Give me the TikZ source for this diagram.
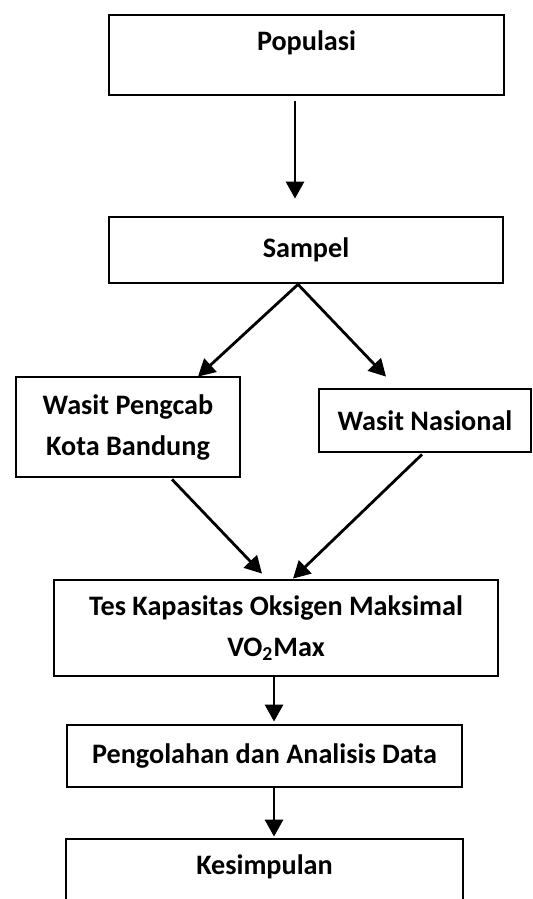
\documentclass[tikz,border=0pt]{standalone}
\usepackage{fontspec}
\setmainfont{Carlito}
\usetikzlibrary{arrows.meta,calc}

\tikzset{
  flowbox/.style={draw, line width=1.4pt, inner sep=0pt, align=center,
    font=\fontsize{14.1pt}{20.5pt}\selectfont\bfseries},
  flowarr/.style={line width=1.4pt, -{Triangle[length=8.5pt,width=9pt]}}
}

\begin{document}
\begin{tikzpicture}[x=0.5pt, y=-0.5pt]

% ================================================================
% Page frame (pixel grid of the reference, y going down)
% ================================================================
\useasboundingbox (0,0) rectangle (532,899);

% ================================================================
% Boxes
% ================================================================
\node[flowbox, minimum width=197.5pt, minimum height=40pt,
  text height=18pt, text depth=22pt] (pop) at (306.5,55) {Populasi};
\node[flowbox, minimum width=197pt, minimum height=33pt] (sam) at (306,250) {Sampel};
\node[flowbox, minimum width=112pt, minimum height=50pt] (wpc) at (128,427)
  {Wasit Pengcab\\Kota Bandung};
\node[flowbox, minimum width=106pt, minimum height=31.5pt] (wn) at (425,420.5)
  {Wasit Nasional};
\node[flowbox, minimum width=222pt, minimum height=48pt] (tes) at (276,628)
  {Tes Kapasitas Oksigen Maksimal\\VO\textsubscript{2}Max};
\node[flowbox, minimum width=197.5pt, minimum height=31pt] (pen) at (264.5,756)
  {Pengolahan dan Analisis Data};
\node[flowbox, minimum width=198.5pt, minimum height=40pt,
  text height=17.5pt, text depth=22.5pt] (kes) at (264.5,879) {Kesimpulan};

% ================================================================
% Connectors
% ================================================================
\draw[flowarr] ($(pop.south)+(-11.5,5)$) -- ($(sam.north)+(-11,-17)$);
\draw[flowarr] ($(sam.south)+(-8,0)$) -- ($(wpc.north)+(70,1)$);
\draw[flowarr] ($(sam.south)+(-8,0)$) -- ($(wn.north)+(-39,-11)$);
\draw[flowarr] ($(wpc.south)+(44,1)$) -- ($(tes.north)+(-14,-5)$);
\draw[flowarr] ($(wn.south)+(-3,1)$) -- ($(tes.north)+(17,0)$);
\draw[flowarr] ($(tes.south)+(-2,0)$) -- ($(pen.north)+(9.5,-2)$);
\draw[flowarr] ($(pen.south)+(9.5,0)$) -- ($(kes.north)+(9.5,-1)$);

\end{tikzpicture}
\end{document}
